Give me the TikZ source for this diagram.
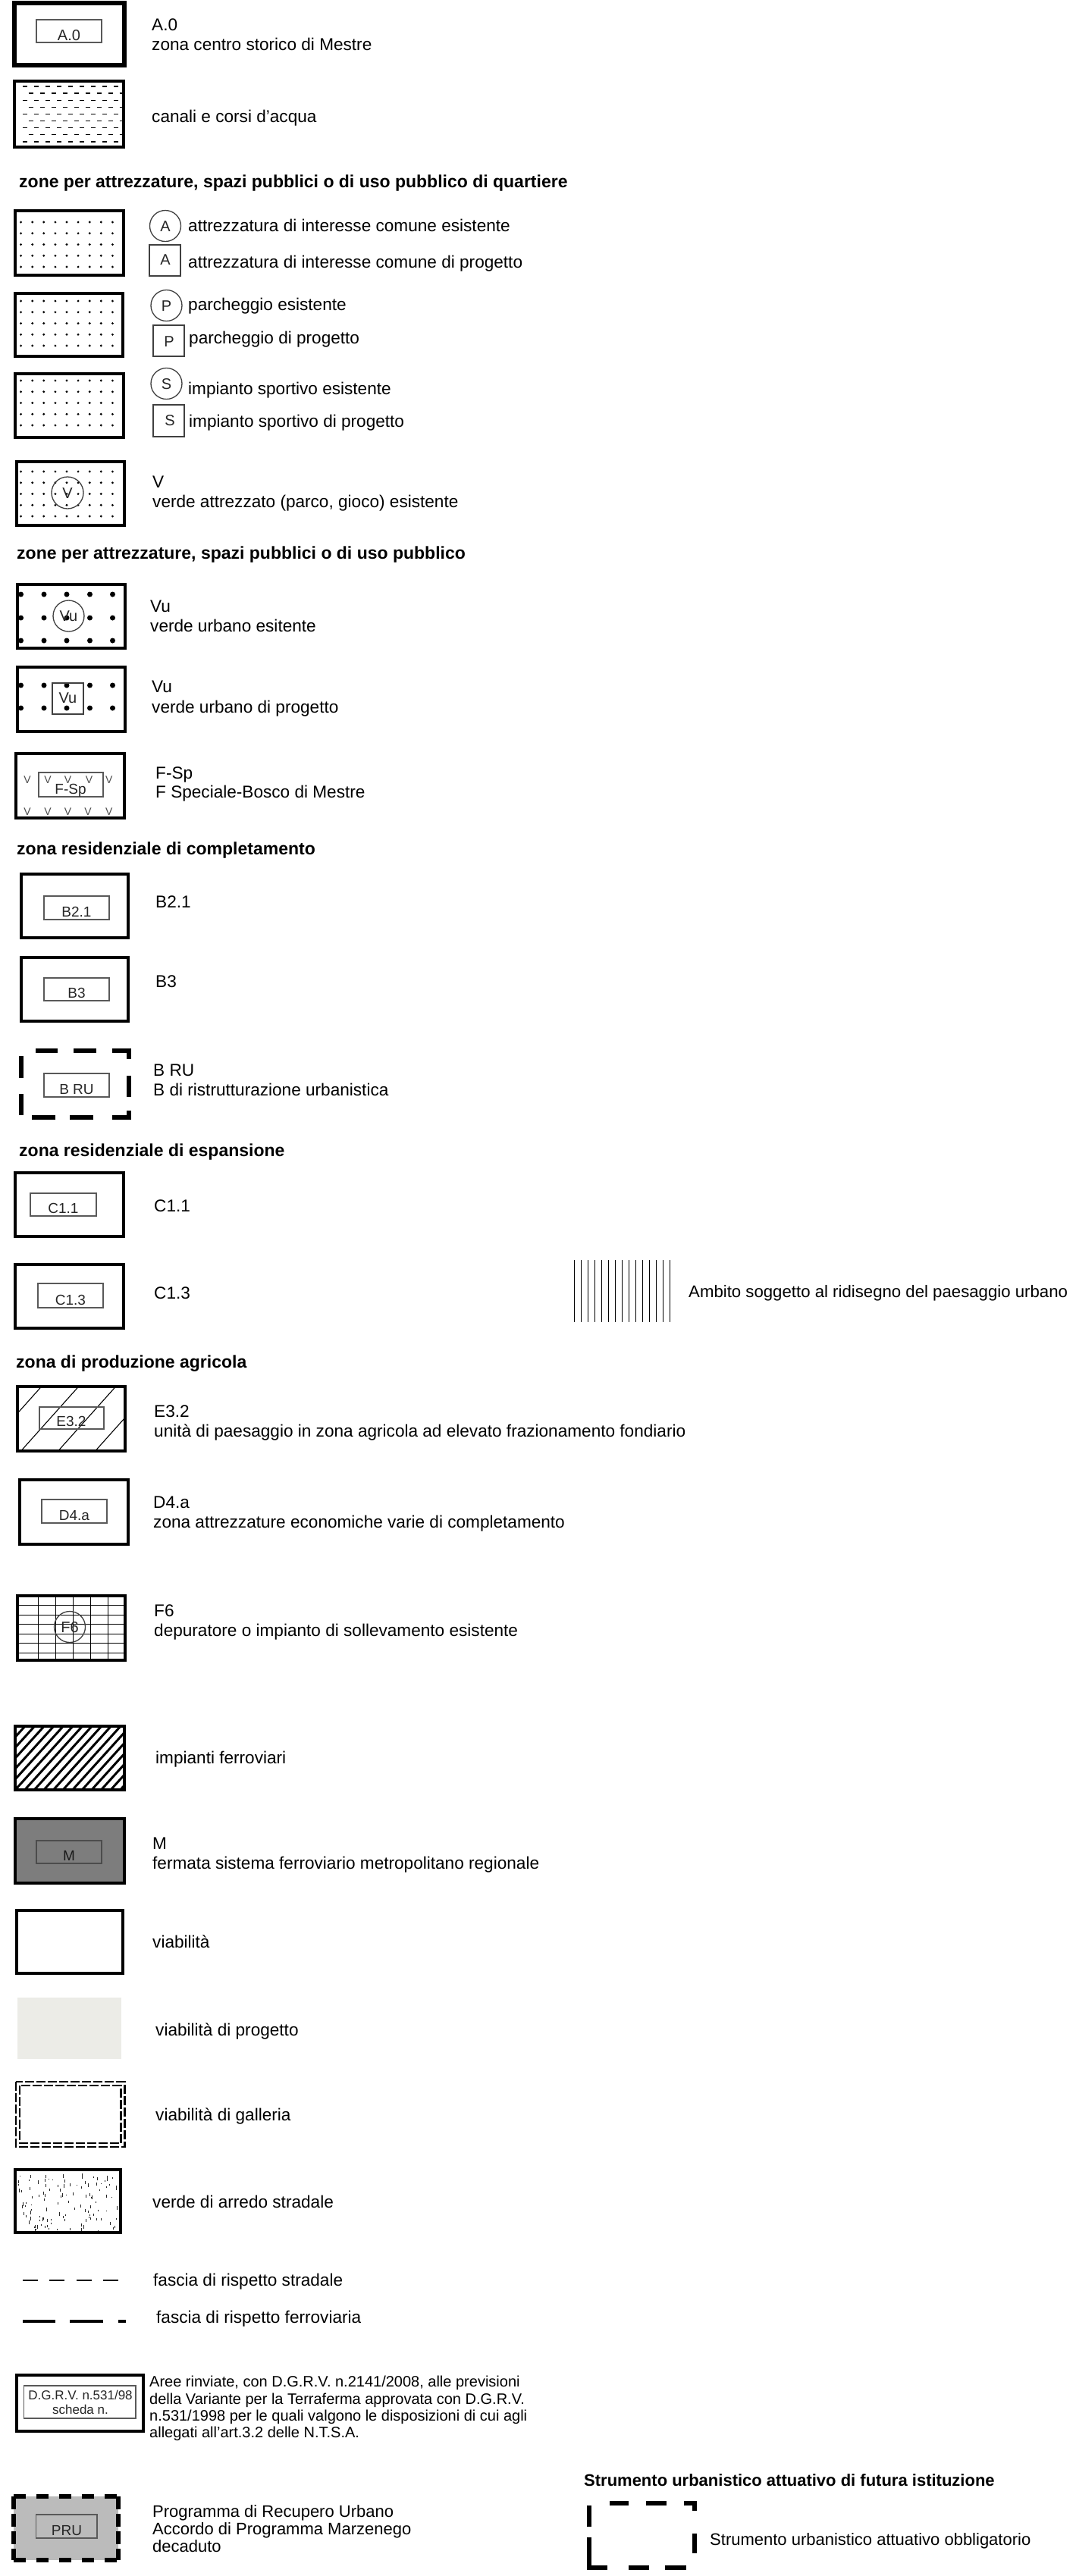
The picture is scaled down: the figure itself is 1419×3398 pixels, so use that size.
\documentclass[tikz,border=0pt]{standalone}
\usepackage{fontspec}
\setmainfont{Liberation Sans}
\definecolor{mgray}{RGB}{125,125,125}
\definecolor{prugray}{RGB}{187,187,187}
\definecolor{progray}{RGB}{236,236,231}
\begin{document}
\begin{tikzpicture}[x=1pt,y=-1pt,
  txt/.style={anchor=base west,inner sep=0pt,font=\fontsize{22.6}{26}\selectfont},
  hd/.style={anchor=base west,inner sep=0pt,font=\fontsize{23}{26}\selectfont\bfseries},
  lbl/.style={anchor=base,inner sep=0pt,font=\fontsize{19}{19}\selectfont,text=black!85},
  sym/.style={inner sep=0pt,font=\fontsize{20}{20}\selectfont,text=black!85},
  frame/.style={line width=3.5pt},
  lbox/.style={draw=black!65,line width=1.3pt},
  symline/.style={draw=black!75,line width=1.3pt},
  vmk/.style={inner sep=0pt,font=\fontsize{14}{14}\selectfont,text=black!70},
  thickdash/.style={line width=5.5pt},
]
\useasboundingbox (0,0) rectangle (1419,3398);
\fill[white] (0,0) rectangle (1419,3398);

% A.0
\draw[line width=6pt] (19,4) rectangle (164,86);
\draw[lbox] (48,26) rectangle (134,56);
\node[lbl,font=\fontsize{20}{20}\selectfont] (a0l) at (91,53) {A.0};
\node[txt] (a0t1) at (200,40) {A.0};
\node[txt] (a0t2) at (200,66) {zona centro storico di Mestre};

% canali
\begin{scope}
\clip (19,107) rectangle (163,194);
\foreach \r in {0,...,8}{
  \pgfmathsetmacro\yy{114+9.1*\r}
  \pgfmathsetmacro\off{mod(\r,2)*7.5}
  \foreach \c in {0,...,8}{
    \draw[line width=1.4pt] (30+\off+15*\c,\yy) -- ++(6,0);
  }
}
\end{scope}
\draw[frame] (19,107) rectangle (163,194);
\node[txt] (cant) at (200,161) {canali e corsi d'acqua};

\node[hd] (h1) at (25,247) {zone per attrezzature, spazi pubblici o di uso pubblico di quartiere};

% dotted boxes
\foreach \top/\first in {278/293,387/397,493/502,609/622}{
  \foreach \r in {0,...,4}{
    \foreach \xx in {27.6,42.7,57.8,72.9,88,103.1,118.2,133.3,148.4}{
      \fill (\xx,\first+14.75*\r) circle (1.6pt);
    }
  }
}
\draw[frame] (20,278) rectangle (163,363);
\draw[frame] (20,387) rectangle (162,470);
\draw[frame] (20,493) rectangle (163,577);

\draw[symline] (218,298) circle (20.5pt);
\node[sym] (sa1) at (218,299) {A};
\draw[symline] (197,323) rectangle (238,364);
\node[sym] (sa2) at (218,343) {A};
\node[txt] (ta1) at (248,305) {attrezzatura di interesse comune esistente};
\node[txt] (ta2) at (248,353) {attrezzatura di interesse comune di progetto};

\draw[symline] (219.5,403) circle (20.5pt);
\node[sym] (sp1) at (219.5,404) {P};
\draw[symline] (202,429) rectangle (243,470);
\node[sym] (sp2) at (223,451) {P};
\node[txt] (tp1) at (248,409) {parcheggio esistente};
\node[txt] (tp2) at (249,453) {parcheggio di progetto};

\draw[symline] (219.5,506) circle (20.5pt);
\node[sym] (ss1) at (219.5,507) {S};
\draw[symline] (202,534) rectangle (243,576);
\node[sym] (ss2) at (224,555) {S};
\node[txt] (ts1) at (248,520) {impianto sportivo esistente};
\node[txt] (ts2) at (249,563) {impianto sportivo di progetto};

% V
\draw[frame] (22,609) rectangle (164,693);
\draw[symline] (89,650) circle (21pt);
\node[sym] (sv) at (89,651) {V};
\node[txt] (tv1) at (201,643) {V};
\node[txt] (tv2) at (201,669) {verde attrezzato (parco, gioco) esistente};

\node[hd] (h2) at (22,737) {zone per attrezzature, spazi pubblici o di uso pubblico};

% Vu esistente
\begin{scope}
\clip (23,771) rectangle (165,855);
\foreach \yy in {784,815,845}{
  \foreach \xx in {27.6,58,88,118.5,148.5}{
    \fill (\xx,\yy) circle (3.5pt);
  }
}
\end{scope}
\draw[frame] (23,771) rectangle (165,855);
\draw[symline] (90.5,812.5) circle (20.5pt);
\node[sym] (svu1) at (90.5,813) {Vu};
\node[txt] (tvu1) at (198,807) {Vu};
\node[txt] (tvu2) at (198,833) {verde urbano esitente};

% Vu progetto
\begin{scope}
\clip (23,880) rectangle (165,965);
\foreach \yy in {904,934}{
  \foreach \xx in {27.6,58,88,118.5,148.5}{
    \fill (\xx,\yy) circle (3.5pt);
  }
}
\end{scope}
\draw[frame] (23,880) rectangle (165,965);
\draw[symline] (69,901) rectangle (110,942);
\node[sym] (svu2) at (89.5,921) {Vu};
\node[txt] (tvu3) at (200,913) {Vu};
\node[txt] (tvu4) at (200,940) {verde urbano di progetto};

% F-Sp
\draw[frame] (21,994) rectangle (164,1079);
\draw[lbox] (51,1019) rectangle (136,1051);
\foreach \xx in {36,63,89.5,117.5,143.7}{
  \node[vmk] at (\xx,1029) {V};
}
\foreach \xx in {36,63,89.5,116,143.7}{
  \node[vmk] at (\xx,1071) {V};
}
\node[lbl] (fspl) at (93,1047) {F-Sp};
\node[txt] (tfs1) at (205,1027) {F-Sp};
\node[txt] (tfs2) at (205,1052) {F Speciale-Bosco di Mestre};

\node[hd] (h3) at (22,1127) {zona residenziale di completamento};

% B2.1
\draw[frame] (28,1153) rectangle (169,1237);
\draw[lbox] (58,1182) rectangle (144,1213);
\node[lbl] (b21l) at (101,1209) {B2.1};
\node[txt] (tb21) at (205,1197) {B2.1};
% B3
\draw[frame] (28,1263) rectangle (169,1347);
\draw[lbox] (58,1290) rectangle (144,1320);
\node[lbl] (b3l) at (101,1316) {B3};
\node[txt] (tb3) at (205,1302) {B3};
% B RU
\draw[thickdash] (47,1386) -- (76,1386);
\draw[thickdash] (97,1386) -- (127,1386);
\draw[thickdash] (148,1386) -- (170,1386) -- (170,1397);
\draw[thickdash] (170,1419) -- (170,1447);
\draw[thickdash] (170,1465) -- (170,1474) -- (148,1474);
\draw[thickdash] (123,1474) -- (92,1474);
\draw[thickdash] (73,1474) -- (42,1474);
\draw[thickdash] (28,1393) -- (28,1422);
\draw[thickdash] (28,1443) -- (28,1471);
\draw[lbox] (58,1416) rectangle (144,1447);
\node[lbl] (brul) at (101,1443) {B RU};
\node[txt] (tbru1) at (202,1419) {B RU};
\node[txt] (tbru2) at (202,1445) {B di ristrutturazione urbanistica};

\node[hd] (h4) at (25,1525) {zona residenziale di espansione};

% C1.1
\draw[frame] (20,1547) rectangle (163,1631);
\draw[lbox] (40,1574) rectangle (127,1604);
\node[lbl] (c11l) at (83.5,1600) {C1.1};
\node[txt] (tc11) at (203,1598) {C1.1};
% C1.3
\draw[frame] (20,1668) rectangle (163,1752);
\draw[lbox] (50,1693) rectangle (136,1725);
\node[lbl] (c13l) at (93,1721) {C1.3};
\node[txt] (tc13) at (203,1713) {C1.3};

% Ambito
\foreach \i in {0,...,14}{
  \draw[line width=1pt] (757+9*\i,1662) -- (757+9*\i,1744);
}
\node[txt,font=\fontsize{22.2}{26}\selectfont] (tamb) at (908,1711) {Ambito soggetto al ridisegno del paesaggio urbano};

\node[hd] (h5) at (21,1804) {zona di produzione agricola};

% E3.2
\begin{scope}
\clip (23,1829) rectangle (165,1914);
\foreach \b in {-21.4,27.6,76.6,125.6}{
  \draw[line width=1.1pt] (\b,1914) -- (\b+76,1829);
}
\end{scope}
\draw[frame] (23,1829) rectangle (165,1914);
\draw[lbox] (52,1856) rectangle (137,1885);
\node[lbl] (e32l) at (94,1881) {E3.2};
\node[txt] (te1) at (203,1869) {E3.2};
\node[txt] (te2) at (203,1895) {unità di paesaggio in zona agricola ad elevato frazionamento fondiario};

% D4.a
\draw[frame] (26,1952) rectangle (169,2037);
\draw[lbox] (55,1978) rectangle (141,2009);
\node[lbl] (d4l) at (98,2005) {D4.a};
\node[txt] (td1) at (202,1989) {D4.a};
\node[txt] (td2) at (202,2015) {zona attrezzature economiche varie di completamento};

% F6
\foreach \xx in {50,73,96,119,142}{
  \draw[line width=1pt] (\xx,2105) -- (\xx,2190);
}
\foreach \yy in {2117,2130,2142,2155,2167,2180}{
  \draw[line width=1pt] (23,\yy) -- (165,\yy);
}
\draw[frame] (23,2105) rectangle (165,2190);
\draw[symline] (92,2146) circle (20.5pt);
\node[sym] (f6l) at (92,2147) {F6};
\node[txt] (tf1) at (203,2132) {F6};
\node[txt] (tf2) at (203,2158) {depuratore o impianto di sollevamento esistente};

% impianti ferroviari
\begin{scope}
\clip (20,2277) rectangle (164,2361);
\foreach \i in {-7,...,12}{
  \draw[line width=3pt] (20+12.6*\i,2361) -- (20+12.6*\i+76,2277);
}
\end{scope}
\draw[frame] (20,2277) rectangle (164,2361);
\node[txt] (tif) at (205,2326) {impianti ferroviari};

% M
\draw[frame,fill=mgray] (20,2399) rectangle (164,2484);
\draw[lbox,draw=black!70] (48,2428) rectangle (134,2458);
\node[lbl,text=black!90] (ml) at (91,2454) {M};
\node[txt] (tm1) at (201,2439) {M};
\node[txt] (tm2) at (201,2465) {fermata sistema ferroviario metropolitano regionale};

% viabilita
\draw[frame] (22,2520) rectangle (162,2603);
\node[txt] (tvia) at (201,2569) {viabilità};

\fill[progray] (23,2635) rectangle (160,2716);
\node[txt] (tvp) at (205,2685) {viabilità di progetto};

% galleria
\draw[line width=2.2pt,dash pattern=on 12pt off 3pt] (21,2746) rectangle (164.5,2832);
\draw[line width=2.2pt,dash pattern=on 12pt off 3pt] (26,2751) rectangle (159.5,2827);
\node[txt] (tgal) at (205,2797) {viabilità di galleria};

% verde arredo
\begin{scope}
\clip (20,2862) rectangle (159,2945);
\pgfmathsetseed{7}
\foreach \i in {1,...,115}{
  \pgfmathsetmacro\xx{24+131*rnd}
  \pgfmathsetmacro\yy{2866+76*rnd}
  \pgfmathsetmacro\ll{1.2+4*rnd}
  \draw[line width=0.9pt,black!85] (\xx,\yy) -- ++(0,\ll);
}
\end{scope}
\draw[frame] (20,2862) rectangle (159,2945);
\node[txt] (tver) at (201,2912) {verde di arredo stradale};

% fasce
\coordinate (fs1) at (30,3008);
\coordinate (fs2) at (156,3008);
\draw[line width=2pt,dash pattern=on 20pt off 15.3pt] (fs1) -- (fs2);
\node[txt] (tfs) at (202,3015) {fascia di rispetto stradale};
\draw[line width=3.5pt] (30,3062) -- (72.5,3062);
\draw[line width=3.5pt] (92,3062) -- (135.5,3062);
\draw[line width=3.5pt] (156,3062) -- (165.5,3062);
\node[txt] (tff) at (206,3064) {fascia di rispetto ferroviaria};

% DGRV
\draw[line width=4pt] (22,3133) rectangle (189,3207);
\draw[lbox] (31.5,3147) rectangle (179,3190);
\node[lbl,font=\fontsize{17}{17}\selectfont] (dg1) at (106,3165) {D.G.R.V. n.531/98};
\node[lbl,font=\fontsize{17}{17}\selectfont] (dg2) at (106,3184) {scheda n.};
\begin{scope}[every node/.style={anchor=base west,inner sep=0pt,font=\fontsize{20}{22}\selectfont}]
\node (dp1) at (197,3148) {Aree rinviate, con D.G.R.V. n.2141/2008, alle previsioni};
\node (dp2) at (197,3171) {della Variante per la Terraferma approvata con D.G.R.V.};
\node (dp3) at (197,3193) {n.531/1998 per le quali valgono le disposizioni di cui agli};
\node (dp4) at (197,3215) {allegati all'art.3.2 delle N.T.S.A.};
\end{scope}

% Strumento heading
\node[hd,font=\fontsize{22}{24}\selectfont\bfseries] (hs) at (770,3279) {Strumento urbanistico attuativo di futura istituzione};

% PRU
\fill[prugray] (18,3293) rectangle (156,3377);
\draw[thickdash,dash pattern=on 16pt off 14pt] (18,3293) -- (156,3293);
\draw[thickdash,dash pattern=on 16pt off 14pt] (18,3377) -- (156,3377);
\draw[thickdash,dash pattern=on 17pt off 6pt] (18,3293) -- (18,3377);
\draw[thickdash,dash pattern=on 17pt off 6pt] (156,3293) -- (156,3377);
\draw[lbox,fill=prugray] (47.6,3317) rectangle (128,3348);
\node[lbl] (prul) at (88,3344) {PRU};
\begin{scope}[every node/.style={anchor=base west,inner sep=0pt,font=\fontsize{22}{24}\selectfont}]
\node (tpr1) at (201,3320) {Programma di Recupero Urbano};
\node (tpr2) at (201,3343) {Accordo di Programma Marzenego};
\node (tpr3) at (201,3366) {decaduto};
\end{scope}

% Strumento obbligatorio
\draw[thickdash] (777,3305) -- (777,3333);
\draw[thickdash] (777,3347) -- (777,3387) -- (801,3387);
\draw[thickdash] (804,3302) -- (829,3302);
\draw[thickdash] (852,3302) -- (879,3302);
\draw[thickdash] (902,3302) -- (916,3302) -- (916,3312);
\draw[thickdash] (916,3342) -- (916,3368);
\draw[thickdash] (829,3387) -- (856,3387);
\draw[thickdash] (877,3387) -- (905,3387);
\node[anchor=base west,inner sep=0pt,font=\fontsize{22}{24}\selectfont] (tso) at (936,3357) {Strumento urbanistico attuativo obbligatorio};

\end{tikzpicture}
\end{document}
